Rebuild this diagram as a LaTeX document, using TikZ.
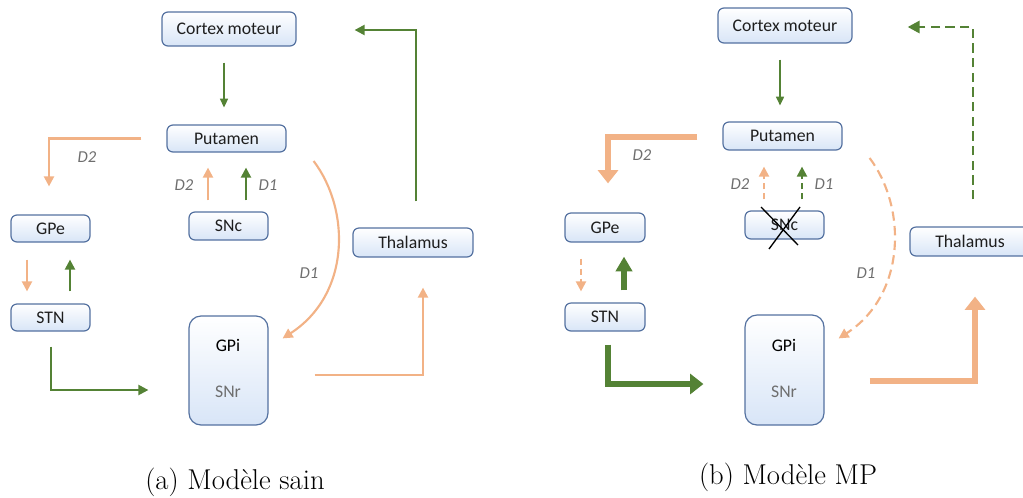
\documentclass[tikz,border=0pt]{standalone}
\usepackage{fontspec}
\newfontfamily\calib{Carlito}
\usetikzlibrary{arrows.meta,calc}
\definecolor{grn}{RGB}{84,130,53}
\definecolor{org}{RGB}{242,178,134}
\definecolor{bord}{RGB}{84,113,160}
\definecolor{boxbot}{RGB}{216,229,247}
\definecolor{lbl}{RGB}{110,110,110}
\definecolor{txt}{RGB}{30,30,30}
\begin{document}
\begin{tikzpicture}[x=0.75pt,y=-0.75pt,
  box/.style={draw=bord, line width=0.9pt, rounded corners=4.5pt, top color=white, middle color=white!70!boxbot, bottom color=boxbot,
    font=\calib\fontsize{13.3}{15}\selectfont, text=txt, inner sep=0pt},
  sz/.style 2 args={minimum width=#1*0.75pt, minimum height=#2*0.75pt},
  dlab/.style={font=\calib\itshape\fontsize{12.5}{14}\selectfont, text=lbl},
  captxt/.style={font=\fontsize{21.5}{25}\selectfont},
  arrsmall/.style={-{Triangle[length=6.5pt,width=6pt]}, line width=1.2pt},
  arrthin/.style={-{Triangle[length=7.5pt,width=7.5pt]}, line width=1.6pt},
  fatA/.style={-{Triangle[length=10pt,width=15pt]}, line width=4.5pt},
  fatB/.style={-{Triangle[length=11pt,width=12pt]}, line width=4pt},
  sdash/.style={dash pattern=on 4.5pt off 3pt},
  ldash/.style={dash pattern=on 7pt off 4pt}
]
\useasboundingbox (0,0) rectangle (1023,497);

% ---------- panel (a) ----------
\node[box, sz={134}{34}] (cortexA) at (229,29) {Cortex moteur};
\node[box, sz={119}{27}] (putA) at (226.5,138.5) {Putamen};
\node[box, sz={79}{27}] (gpeA) at (50.5,228.5) {GPe};
\node[box, sz={79}{28}] (sncA) at (228.5,226) {SNc};
\node[box, sz={120}{29}] (thalA) at (413,242.5) {Thalamus};
\node[box, sz={79}{27}] (stnA) at (50.5,317.5) {STN};
\node[box, sz={79}{109}, rounded corners=9pt] (gpiA) at (228.5,370.5) {};
\node[font=\calib\fontsize{13.3}{15}\selectfont, text=black] (gpiAt) at (228,345) {GPi};
\node[font=\calib\fontsize{13.3}{15}\selectfont, text=lbl] (snrAt) at (228,392) {SNr};

\draw[arrsmall, grn] ($(cortexA.south)+(-5,16)$) -- ($(putA.north)+(-2.5,-17)$);
\draw[arrthin, org] ($(putA.west)+(-25,0)$) -| ($(gpeA.north)+(-1.5,-28)$);
\node[dlab] (d2a) at (87,157) {D2};
\draw[arrthin, org] ($(sncA.north)+(-20.5,-11)$) -- ($(putA.south)+(-18.5,15)$);
\draw[arrthin, grn] ($(sncA.north)+(17.5,-11)$) -- ($(putA.south)+(19.5,15)$);
\node[dlab] (d2b) at (184,185) {D2};
\node[dlab] (d1b) at (268,185) {D1};
\draw[arrthin, org] ($(gpeA.south)+(-23.5,17)$) -- ($(stnA.north)+(-23.5,-12)$);
\draw[arrthin, grn] ($(stnA.north)+(19.5,-12)$) -- ($(gpeA.south)+(19.5,17)$);
\draw[arrthin, grn] ($(stnA.south)+(0.5,15)$) |- ($(gpiA.west)+(-40,19.5)$);
\draw[arrthin, org] ($(gpiA.east)+(46,4.5)$) -| ($(thalA.south)+(10,30)$);
\draw[arrthin, grn] ($(thalA.north)+(3,-26)$) |- ($(cortexA.east)+(58,1)$);
\draw[arrthin, org] ($(putA.east)+(27,22.5)$) .. controls +(37,49) and +(68,-44) .. ($(gpiA.north east)+(14,23)$);
\node[dlab] (d1a) at (309,273) {D1};
\node[captxt] (capA) at (235,482) {(a) Modèle sain};

% ---------- panel (b) ----------
\node[box, sz={134}{35}] (cortexB) at (785,25.5) {Cortex moteur};
\node[box, sz={119}{28}] (putB) at (782.5,136) {Putamen};
\node[box, sz={80}{29}] (gpeB) at (605,227.5) {GPe};
\node[box, sz={79}{28}] (sncB) at (784.5,225) {SNc};
\node[box, sz={120}{29}] (thalB) at (970,241.5) {Thalamus};
\node[box, sz={80}{28}] (stnB) at (605,317) {STN};
\node[box, sz={79}{110}, rounded corners=9pt] (gpiB) at (784.5,370) {};
\node[font=\calib\fontsize{13.3}{15}\selectfont, text=black] (gpiBt) at (784,345) {GPi};
\node[font=\calib\fontsize{13.3}{15}\selectfont, text=lbl] (snrBt) at (784,392) {SNr};

\draw[arrsmall, grn] ($(cortexB.south)+(-5,16)$) -- ($(putB.north)+(-2.5,-16)$);
\draw[fatA, org] ($(putB.west)+(-25,1)$) -| ($(gpeB.north)+(3,-29)$);
\node[dlab] (d2c) at (642,155) {D2};
\draw[arrthin, org, sdash] ($(sncB.north)+(-20.5,-11)$) -- ($(putB.south)+(-18.5,16)$);
\draw[arrthin, grn, sdash] ($(sncB.north)+(17.5,-11)$) -- ($(putB.south)+(19.5,16)$);
\node[dlab] (d2d) at (740,184) {D2};
\node[dlab] (d1d) at (824,184) {D1};
\draw[black, line width=1pt] ($(sncB.center)+(-23.5,-18)$) -- ($(sncB.center)+(13.5,20)$);
\draw[black, line width=1pt] ($(sncB.center)+(15.5,-18)$) -- ($(sncB.center)+(-15.5,24)$);
\draw[arrthin, org, sdash] ($(gpeB.south)+(-24,16)$) -- ($(stnB.north)+(-24,-11)$);
\draw[fatB, grn] ($(stnB.north)+(19,-12)$) -- ($(gpeB.south)+(19,14)$);
\draw[fatA, grn] ($(stnB.south)+(3,13)$) |- ($(gpiB.west)+(-41,14)$);
\draw[fatA, org] ($(gpiB.east)+(45,11)$) -| ($(thalB.south)+(5,40)$);
\draw[-{Triangle[length=9pt,width=9pt]}, grn, ldash, line width=2.2pt] ($(thalB.north)+(3,-27)$) |- ($(cortexB.east)+(55,1.5)$);
\draw[arrthin, org, ldash] ($(putB.east)+(27,22)$) .. controls +(37,49) and +(68,-44) .. ($(gpiB.north east)+(14,24)$);
\node[dlab] (d1c) at (866,273) {D1};
\node[captxt] (capB) at (788,477) {(b) Modèle MP};
\end{tikzpicture}
\end{document}
